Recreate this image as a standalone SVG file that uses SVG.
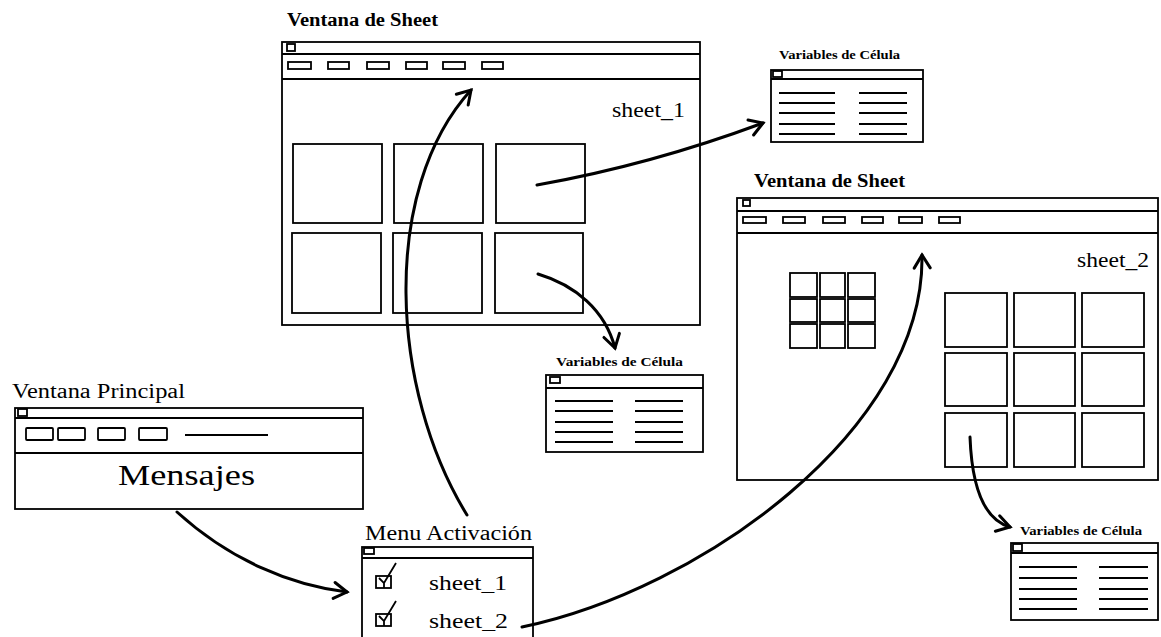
<svg xmlns="http://www.w3.org/2000/svg" width="1161" height="637" viewBox="0 0 1161 637">
<defs>
<style>
.w{fill:#fff;stroke:#000;stroke-width:1.8}
.b{fill:none;stroke:#000;stroke-width:1.8}
.c{fill:none;stroke:#000;stroke-width:1.8}
.l{stroke:#000;stroke-width:2}
.t{font-family:"Liberation Serif","Times New Roman",serif;fill:#000}
.tb{font-family:"Liberation Serif","Times New Roman",serif;font-weight:bold;fill:#000}
.a{fill:none;stroke:#000;stroke-width:3;stroke-linecap:round;marker-end:url(#ah)}
</style>
<marker id="ah" markerUnits="userSpaceOnUse" viewBox="-16 -10 20 20" refX="0" refY="0" markerWidth="20" markerHeight="20" orient="auto">
<path d="M-13,-8 L0,0 L-13,8" fill="none" stroke="#000" stroke-width="3" stroke-linecap="round" stroke-linejoin="miter"/>
</marker>
</defs>
<rect width="1161" height="637" fill="#fff"/>

<g id="sheet1">
<text class="tb" x="287" y="26" font-size="18" textLength="151" lengthAdjust="spacingAndGlyphs">Ventana de Sheet</text>
<rect class="w" x="282" y="42" width="418" height="283"/>
<line class="b" x1="282" y1="54" x2="700" y2="54"/>
<line class="b" x1="282" y1="79" x2="700" y2="79"/>
<rect class="b" x="287" y="44" width="8" height="7"/>
<rect class="b" x="288" y="62" width="23" height="7"/>
<rect class="b" x="328" y="62" width="21" height="7"/>
<rect class="b" x="367" y="62" width="22" height="7"/>
<rect class="b" x="406" y="62" width="21" height="7"/>
<rect class="b" x="443" y="62" width="22" height="7"/>
<rect class="b" x="482" y="62" width="21" height="7"/>
<text class="t" x="612" y="117" font-size="21" textLength="73" lengthAdjust="spacingAndGlyphs">sheet_1</text>
<rect class="c" x="293" y="144" width="89" height="79"/>
<rect class="c" x="394" y="144" width="89" height="79"/>
<rect class="c" x="496" y="144" width="89" height="79"/>
<rect class="c" x="292" y="233" width="89" height="80"/>
<rect class="c" x="393" y="233" width="89" height="80"/>
<rect class="c" x="495" y="233" width="88" height="80"/>
</g>

<g id="vars1">
<text class="tb" x="779" y="59" font-size="12" textLength="121" lengthAdjust="spacingAndGlyphs">Variables de Célula</text>
<rect class="w" x="771" y="70" width="152" height="72"/>
<line class="b" x1="771" y1="79" x2="923" y2="79"/>
<rect class="b" x="773" y="71" width="9" height="6"/>
<g class="l">
<line x1="779" y1="93" x2="835" y2="93"/><line x1="859" y1="93" x2="907" y2="93"/>
<line x1="779" y1="103" x2="835" y2="103"/><line x1="859" y1="103" x2="907" y2="103"/>
<line x1="779" y1="113" x2="835" y2="113"/><line x1="859" y1="113" x2="907" y2="113"/>
<line x1="779" y1="124" x2="835" y2="124"/><line x1="859" y1="124" x2="907" y2="124"/>
<line x1="779" y1="134" x2="835" y2="134"/><line x1="859" y1="134" x2="907" y2="134"/>
</g>
</g>

<g id="sheet2">
<text class="tb" x="754" y="187" font-size="18" textLength="151" lengthAdjust="spacingAndGlyphs">Ventana de Sheet</text>
<rect class="w" x="737" y="198" width="421" height="282"/>
<line class="b" x1="737" y1="211" x2="1158" y2="211"/>
<line class="b" x1="737" y1="233" x2="1158" y2="233"/>
<rect class="b" x="743" y="200" width="7" height="6"/>
<rect class="b" x="743" y="217" width="23" height="6"/>
<rect class="b" x="783" y="217" width="22" height="6"/>
<rect class="b" x="823" y="217" width="22" height="6"/>
<rect class="b" x="862" y="217" width="21" height="6"/>
<rect class="b" x="899" y="217" width="23" height="6"/>
<rect class="b" x="939" y="217" width="21" height="6"/>
<text class="t" x="1077" y="267" font-size="21" textLength="72" lengthAdjust="spacingAndGlyphs">sheet_2</text>
<rect class="c" x="790" y="273" width="27" height="24"/>
<rect class="c" x="820" y="273" width="25" height="24"/>
<rect class="c" x="848" y="273" width="27" height="24"/>
<rect class="c" x="790" y="299" width="27" height="23"/>
<rect class="c" x="820" y="299" width="25" height="23"/>
<rect class="c" x="848" y="299" width="27" height="23"/>
<rect class="c" x="790" y="324" width="27" height="24"/>
<rect class="c" x="820" y="324" width="25" height="24"/>
<rect class="c" x="848" y="324" width="27" height="24"/>
<rect class="c" x="945" y="293" width="62" height="54"/>
<rect class="c" x="1014" y="293" width="61" height="54"/>
<rect class="c" x="1082" y="293" width="62" height="54"/>
<rect class="c" x="945" y="353" width="62" height="53"/>
<rect class="c" x="1014" y="353" width="61" height="53"/>
<rect class="c" x="1082" y="353" width="62" height="53"/>
<rect class="c" x="945" y="413" width="62" height="54"/>
<rect class="c" x="1014" y="413" width="61" height="54"/>
<rect class="c" x="1082" y="413" width="62" height="54"/>
</g>

<g id="vars2">
<text class="tb" x="556" y="366" font-size="12" textLength="127" lengthAdjust="spacingAndGlyphs">Variables de Célula</text>
<rect class="w" x="546" y="375" width="157" height="77"/>
<line class="b" x1="546" y1="388" x2="703" y2="388"/>
<rect class="b" x="550" y="377" width="10" height="6"/>
<g class="l">
<line x1="555" y1="401" x2="613" y2="401"/><line x1="635" y1="401" x2="683" y2="401"/>
<line x1="555" y1="411" x2="613" y2="411"/><line x1="635" y1="411" x2="683" y2="411"/>
<line x1="555" y1="422" x2="613" y2="422"/><line x1="635" y1="422" x2="683" y2="422"/>
<line x1="555" y1="432" x2="613" y2="432"/><line x1="635" y1="432" x2="683" y2="432"/>
<line x1="555" y1="442" x2="613" y2="442"/><line x1="635" y1="442" x2="683" y2="442"/>
</g>
</g>

<g id="vars3">
<text class="tb" x="1020" y="535" font-size="12" textLength="122" lengthAdjust="spacingAndGlyphs">Variables de Célula</text>
<rect class="w" x="1011" y="543" width="147" height="77"/>
<line class="b" x1="1011" y1="553" x2="1158" y2="553"/>
<rect class="b" x="1013" y="544" width="9" height="7"/>
<g class="l">
<line x1="1019" y1="567" x2="1077" y2="567"/><line x1="1099" y1="567" x2="1148" y2="567"/>
<line x1="1019" y1="578" x2="1077" y2="578"/><line x1="1099" y1="578" x2="1148" y2="578"/>
<line x1="1019" y1="589" x2="1077" y2="589"/><line x1="1099" y1="589" x2="1148" y2="589"/>
<line x1="1019" y1="599" x2="1077" y2="599"/><line x1="1099" y1="599" x2="1148" y2="599"/>
<line x1="1019" y1="609" x2="1077" y2="609"/><line x1="1099" y1="609" x2="1148" y2="609"/>
</g>
</g>

<g id="principal">
<text class="t" x="12" y="398" font-size="20" textLength="173" lengthAdjust="spacingAndGlyphs">Ventana Principal</text>
<rect class="w" x="15" y="408" width="348" height="101"/>
<line class="b" x1="15" y1="418" x2="363" y2="418"/>
<line class="b" x1="15" y1="453" x2="363" y2="453"/>
<rect class="b" x="18" y="409" width="9" height="7"/>
<rect class="b" x="26" y="428" width="27" height="12" rx="1"/>
<rect class="b" x="58" y="428" width="27" height="12" rx="1"/>
<rect class="b" x="98" y="428" width="27" height="12" rx="1"/>
<rect class="b" x="139" y="428" width="28" height="12" rx="1"/>
<line class="l" x1="185" y1="435" x2="268" y2="435"/>
<text class="t" x="118" y="485" font-size="30" textLength="137" lengthAdjust="spacingAndGlyphs">Mensajes</text>
</g>

<g id="menu">
<text class="t" x="365" y="540" font-size="20" textLength="167" lengthAdjust="spacingAndGlyphs">Menu Activación</text>
<rect class="w" x="362" y="547" width="171" height="100"/>
<line class="b" x1="362" y1="558" x2="533" y2="558"/>
<rect class="b" x="364" y="548" width="10" height="6"/>
<rect class="b" x="376" y="576" width="15" height="12"/>
<path class="b" d="M379,578 L384,583 L384,588 M384,583 L396,563"/>
<text class="t" x="429" y="590" font-size="22" textLength="78" lengthAdjust="spacingAndGlyphs">sheet_1</text>
<rect class="b" x="376" y="614" width="15" height="12"/>
<path class="b" d="M379,616 L384,621 L384,626 M384,621 L396,601"/>
<text class="t" x="429" y="628" font-size="22" textLength="79" lengthAdjust="spacingAndGlyphs">sheet_2</text>
</g>

<g id="connectors">
<path class="a" d="M177,512 C230,560 290,585 347,592"/>
<path class="a" d="M467,515 C390,390 380,190 471,90"/>
<path class="a" d="M522,627 C700,590 925,430 922,255"/>
<path class="a" d="M537,185 Q650,165 763,123"/>
<path class="a" d="M538,274 C575,285 605,310 615,348"/>
<path class="a" d="M970,437 C972,490 985,520 1010,527"/>
</g>
</svg>
